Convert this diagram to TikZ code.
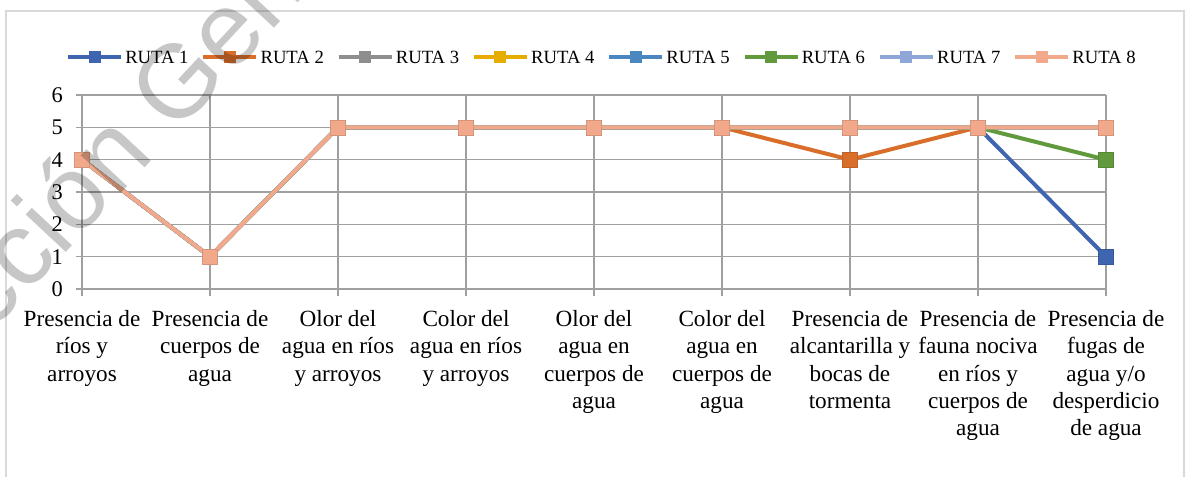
\documentclass[tikz,border=0pt]{standalone}
\usepackage{fontspec}
\setmainfont{Liberation Serif}
\newfontfamily\wmfont{Liberation Sans}
\definecolor{r1}{HTML}{3F65B1}
\definecolor{r2}{HTML}{D96E2B}
\definecolor{r3}{HTML}{8E8E8E}
\definecolor{r4}{HTML}{E6AC00}
\definecolor{r5}{HTML}{4A86C0}
\definecolor{r6}{HTML}{609A3C}
\definecolor{r7}{HTML}{8FA6D8}
\definecolor{r8}{HTML}{F2A88A}
\definecolor{gridc}{HTML}{A0A0A0}
\definecolor{framec}{HTML}{D9D9D9}
\tikzset{
  ser/.style={line width=3pt, line join=round},
  mk/.style={rectangle, inner sep=0pt, minimum size=11.25pt, draw=#1!88!black, line width=0.4pt, fill=#1},
  lmk/.style={rectangle, inner sep=0pt, minimum size=9pt, fill=#1},
  ylab/.style={anchor=east, inner sep=0pt, font=\fontsize{16.8pt}{19pt}\selectfont},
  clab/.style={anchor=north, inner sep=0pt, align=center, font=\fontsize{17.4pt}{20.5pt}\selectfont},
  leg/.style={anchor=base west, inner sep=0pt, font=\fontsize{14pt}{16pt}\selectfont},
  wm/.style={inner sep=0pt, text=black, text opacity=0.22, font=\wmfont\fontsize{78pt}{78pt}\selectfont}
}
\begin{document}
\begin{tikzpicture}[x=0.75pt,y=-0.75pt]
\useasboundingbox (0,0) rectangle (1189,477);
\fill[white] (0,0) rectangle (1189,477);
\draw[framec, line width=1.2pt] (6,480) -- (6,11) -- (1184,11) -- (1184,480);
% grid
\foreach \v in {0,...,6} \draw[gridc, line width=0.8pt] (76,{289-32.33*\v}) -- (1106,{289-32.33*\v});
\foreach \i in {0,...,8} \draw[gridc, line width=0.8pt] ({82+128*\i},95) -- ({82+128*\i},296);
% y labels
\foreach \v in {0,...,6} \node[ylab] (y\v) at (63,{289-32.33*\v}) {\v};
% category labels
\node[clab] (c1) at (82,310) {Presencia de\\ríos y\\arroyos};
\node[clab] (c2) at (210,310) {Presencia de\\cuerpos de\\agua};
\node[clab] (c3) at (338,310) {Olor del\\agua en ríos\\y arroyos};
\node[clab] (c4) at (466,310) {Color del\\agua en ríos\\y arroyos};
\node[clab] (c5) at (594,310) {Olor del\\agua en\\cuerpos de\\agua};
\node[clab] (c6) at (722,310) {Color del\\agua en\\cuerpos de\\agua};
\node[clab] (c7) at (850,310) {Presencia de\\alcantarilla y\\bocas de\\tormenta};
\node[clab] (c8) at (978,310) {Presencia de\\fauna nociva\\en ríos y\\cuerpos de\\agua};
\node[clab] (c9) at (1106,310) {Presencia de\\fugas de\\agua y/o\\desperdicio\\de agua};
% legend
\foreach \k in {1,...,8} {
  \pgfmathsetmacro\xs{68+135.3*(\k-1)}
  \draw[r\k, line width=3pt] (\xs,57) -- ({\xs+53},57);
  \node[lmk=r\k] (lm\k) at ({\xs+26.5},57) {};
  \node[leg] (lt\k) at ({\xs+57},64) {RUTA \k};
}
% series
\begin{scope}[shift={(82,289)}, x=96pt, y=24.25pt]
\foreach \c/\vals in {r1/{4,1,5,5,5,5,5,5,1}, r2/{4,1,5,5,5,5,4,5,5}, r3/{4,1,5,5,5,5,5,5,5}, r4/{4,1,5,5,5,5,5,5,5}, r5/{4,1,5,5,5,5,5,5,5}, r6/{4,1,5,5,5,5,5,5,4}, r7/{4,1,5,5,5,5,5,5,5}, r8/{4,1,5,5,5,5,5,5,5}} {
  \foreach \v [count=\i from 0] in \vals {
    \coordinate (\c-\i) at (\i,\v);
  }
  \draw[ser, \c] (\c-0) -- (\c-1) -- (\c-2) -- (\c-3) -- (\c-4) -- (\c-5) -- (\c-6) -- (\c-7) -- (\c-8);
  \foreach \i in {0,...,8} \node[mk=\c] (m\c-\i) at (\c-\i) {};
}
\end{scope}
% watermark
\begin{scope}
\clip (0,0) rectangle (1189,477);
\node[wm, rotate=47, anchor=base west] (wm) at (-10,334) {cción Gen};
\end{scope}
\end{tikzpicture}
\end{document}
